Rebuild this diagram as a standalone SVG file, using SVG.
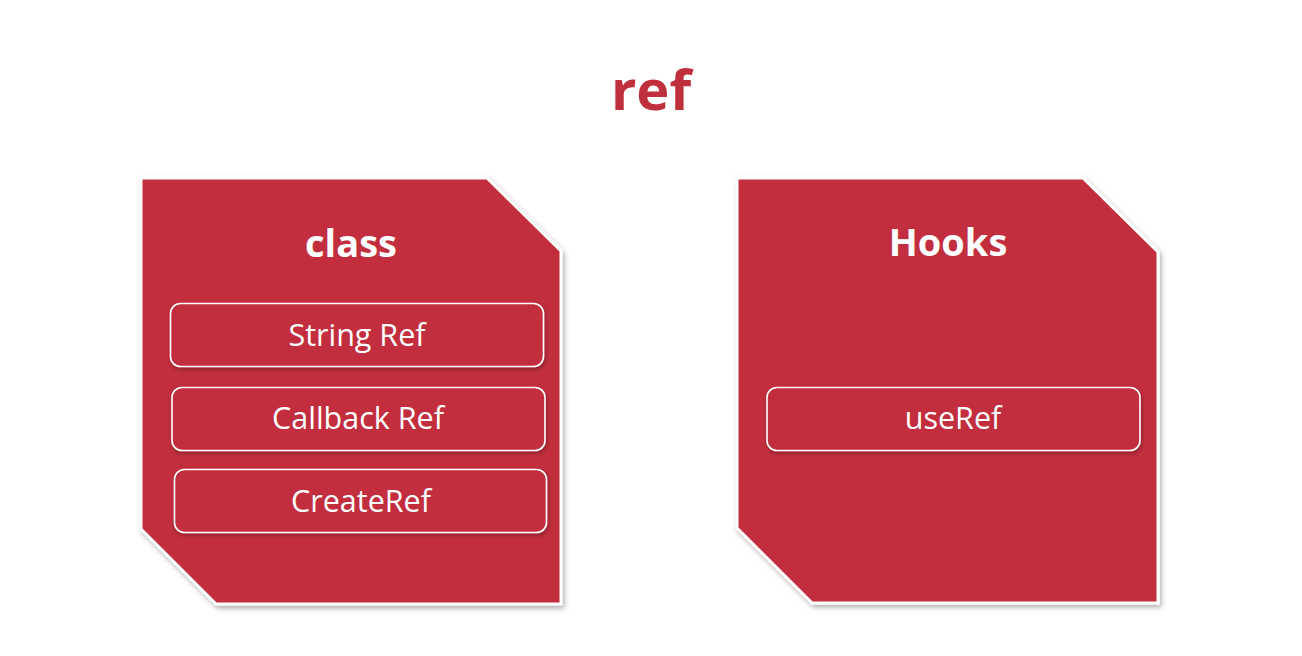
<svg xmlns="http://www.w3.org/2000/svg" width="1302" height="656" viewBox="0 0 1302 656">
<defs>
<filter id="sh" x="-10%" y="-10%" width="120%" height="120%">
<feDropShadow dx="2" dy="3" stdDeviation="2.5" flood-color="#000" flood-opacity="0.3"/>
</filter>
<filter id="sh2" x="-10%" y="-20%" width="120%" height="140%">
<feDropShadow dx="1" dy="2" stdDeviation="2" flood-color="#000" flood-opacity="0.3"/>
</filter>
</defs>
<style>
.card{fill:#C22F3D;stroke:#fff;stroke-width:3;stroke-linejoin:miter}
.item{fill:#C22F3D;stroke:#fff;stroke-width:1.6}
.head{font-family:"Open Sans","Noto Sans",sans-serif;font-weight:bold;font-size:38px;fill:#fff;text-anchor:middle}
.lbl{font-family:"Open Sans","Noto Sans",sans-serif;font-size:30.5px;fill:#fff;text-anchor:middle}
.title{font-family:"Open Sans","Noto Sans",sans-serif;font-weight:bold;font-size:56px;fill:#C0303C;text-anchor:middle}
</style>
<rect width="1302" height="656" fill="#fff"/>
<text class="title" x="651" y="110">ref</text>
<g id="class">
<path class="card" filter="url(#sh)" d="M141,178 L487,178 L561,251 L561,604 L216,604 L141,529 Z"/>
<text class="head" x="351" y="257">class</text>
<g id="string-ref">
<rect class="item" filter="url(#sh2)" x="170.5" y="303.5" width="373" height="63" rx="10"/>
<text class="lbl" x="357" y="346">String Ref</text>
</g>
<g id="callback-ref">
<rect class="item" filter="url(#sh2)" x="172" y="387.5" width="373" height="63" rx="10"/>
<text class="lbl" x="358" y="429">Callback Ref</text>
</g>
<g id="create-ref">
<rect class="item" filter="url(#sh2)" x="174.5" y="469.5" width="372" height="63" rx="10"/>
<text class="lbl" x="361" y="512">CreateRef</text>
</g>
</g>
<g id="hooks">
<path class="card" filter="url(#sh)" d="M737,178 L1083,178 L1158,252 L1158,603 L812,603 L737,528 Z"/>
<text class="head" x="948" y="256">Hooks</text>
<g id="use-ref">
<rect class="item" filter="url(#sh2)" x="767" y="387.5" width="373" height="63" rx="10"/>
<text class="lbl" x="953" y="429">useRef</text>
</g>
</g>
<g id="connectors"/>
</svg>
